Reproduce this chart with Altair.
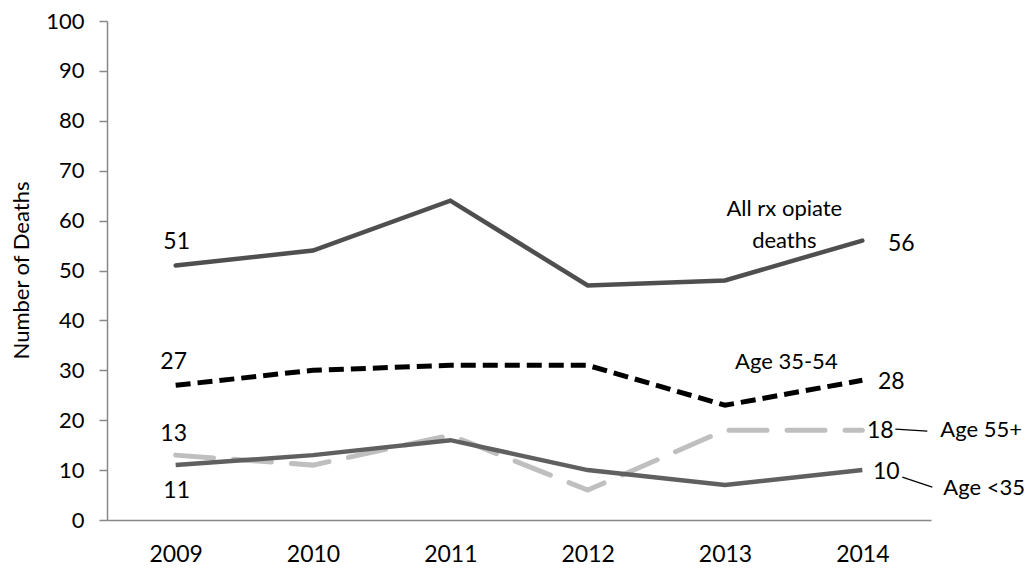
import altair as alt
import pandas as pd

years = ["2009", "2010", "2011", "2012", "2013", "2014"]
all_rx = [51, 54, 64, 47, 48, 56]
age_35_54 = [27, 30, 31, 31, 23, 28]
age_55_plus = [13, 11, 17, 6, 18, 18]
age_under_35 = [11, 13, 16, 10, 7, 10]

y_ticks = list(range(0, 101, 10))
FONT = "Lato"

df = pd.DataFrame({
    "year": years,
    "all": all_rx,
    "mid": age_35_54,
    "old": age_55_plus,
    "young": age_under_35,
})

x_enc = alt.X(
    "year:O",
    scale=alt.Scale(type="point", padding=0.5),
    axis=alt.Axis(title=None, labelAngle=0, ticks=False, domainColor="#888888",
                  domainWidth=1.5, labelFontSize=23, labelFont=FONT,
                  labelColor="#000000", labelPadding=23),
)
y_scale = alt.Scale(domain=[0, 100], nice=False)

y_axis = alt.Axis(values=y_ticks, grid=False, tickSize=8, tickColor="#888888",
                  tickWidth=1.5, domainColor="#888888", domainWidth=1.5,
                  labelFontSize=22, labelFont=FONT, labelColor="#000000",
                  labelPadding=15, title="Number of Deaths", titleFont=FONT,
                  titleFontSize=22, titleFontWeight="normal", titleColor="#000000",
                  titleX=-86, titleY=249, titleAlign="center", titleBaseline="middle",
                  titleAngle=-90)


def y_of(col):
    return alt.Y(f"{col}:Q", scale=y_scale, axis=y_axis)


base = alt.Chart(df)

line_old = base.mark_line(color="#bfbfbf", strokeWidth=5, strokeDash=[38, 20],
                          strokeCap="round").encode(x=x_enc, y=y_of("old"))
line_young = base.mark_line(color="#606060", strokeWidth=4.5).encode(x=x_enc, y=y_of("young"))
line_mid = base.mark_line(color="#000000", strokeWidth=5, strokeDash=[15, 7]).encode(
    x=x_enc, y=y_of("mid"))
line_all = base.mark_line(color="#4f4f4f", strokeWidth=4.5, strokeCap="round").encode(
    x=x_enc, y=y_of("all"))


def label(col, year, dx, dy):
    d = df[df["year"] == year]
    return alt.Chart(d).mark_text(fontSize=23, font=FONT, color="#000000", dx=dx, dy=dy,
                                  align="center", baseline="middle").encode(
        x=x_enc, y=y_of(col), text=alt.Text(f"{col}:Q"))


labels = [
    label("all", "2009", 1, -24),
    label("mid", "2009", -2, -23),
    label("old", "2009", -2, -21),
    label("young", "2009", 1, 26),
    label("all", "2014", 39, 3),
    label("mid", "2014", 29, 2),
    label("old", "2014", 18, 1),
    label("young", "2014", 24, 2),
]


def name(col, year, dx, dy, text, align="center"):
    d = df[df["year"] == year]
    return alt.Chart(d).mark_text(fontSize=22, font=FONT, color="#000000", dx=dx, dy=dy,
                                  align=align, baseline="middle").encode(
        x=x_enc, y=y_of(col), text=alt.value(text))


names = [
    name("all", "2014", -78, -32, "All rx opiate"),
    name("all", "2014", -78, 0, "deaths"),
    name("mid", "2014", -76, -18, "Age 35-54"),
    name("old", "2014", 78, 0, "Age 55+", align="left"),
    name("young", "2014", 81, 18, "Age <35", align="left"),
]

lead_old = alt.Chart(df[df["year"] == "2014"]).mark_rule(
    color="#000000", strokeWidth=1.2, xOffset=33, x2Offset=65, yOffset=-1, y2Offset=1
).encode(x=x_enc, x2=alt.X2("year"), y=y_of("old"), y2=alt.Y2("old"))
lead_young = alt.Chart(df[df["year"] == "2014"]).mark_rule(
    color="#000000", strokeWidth=1.2, xOffset=40, x2Offset=70, yOffset=7, y2Offset=17
).encode(x=x_enc, x2=alt.X2("year"), y=y_of("young"), y2=alt.Y2("young"))

chart = alt.layer(
    line_old, line_young, line_mid, line_all, lead_old, lead_young, *labels, *names
).properties(
    width=824, height=499,
    autosize=alt.AutoSizeParams(type="none"),
    padding={"left": 99, "top": 13, "right": 95, "bottom": 48},
    background="#ffffff",
).configure_view(stroke=None)

chart.save("out.html", embed_options={"renderer": "svg", "actions": False})
